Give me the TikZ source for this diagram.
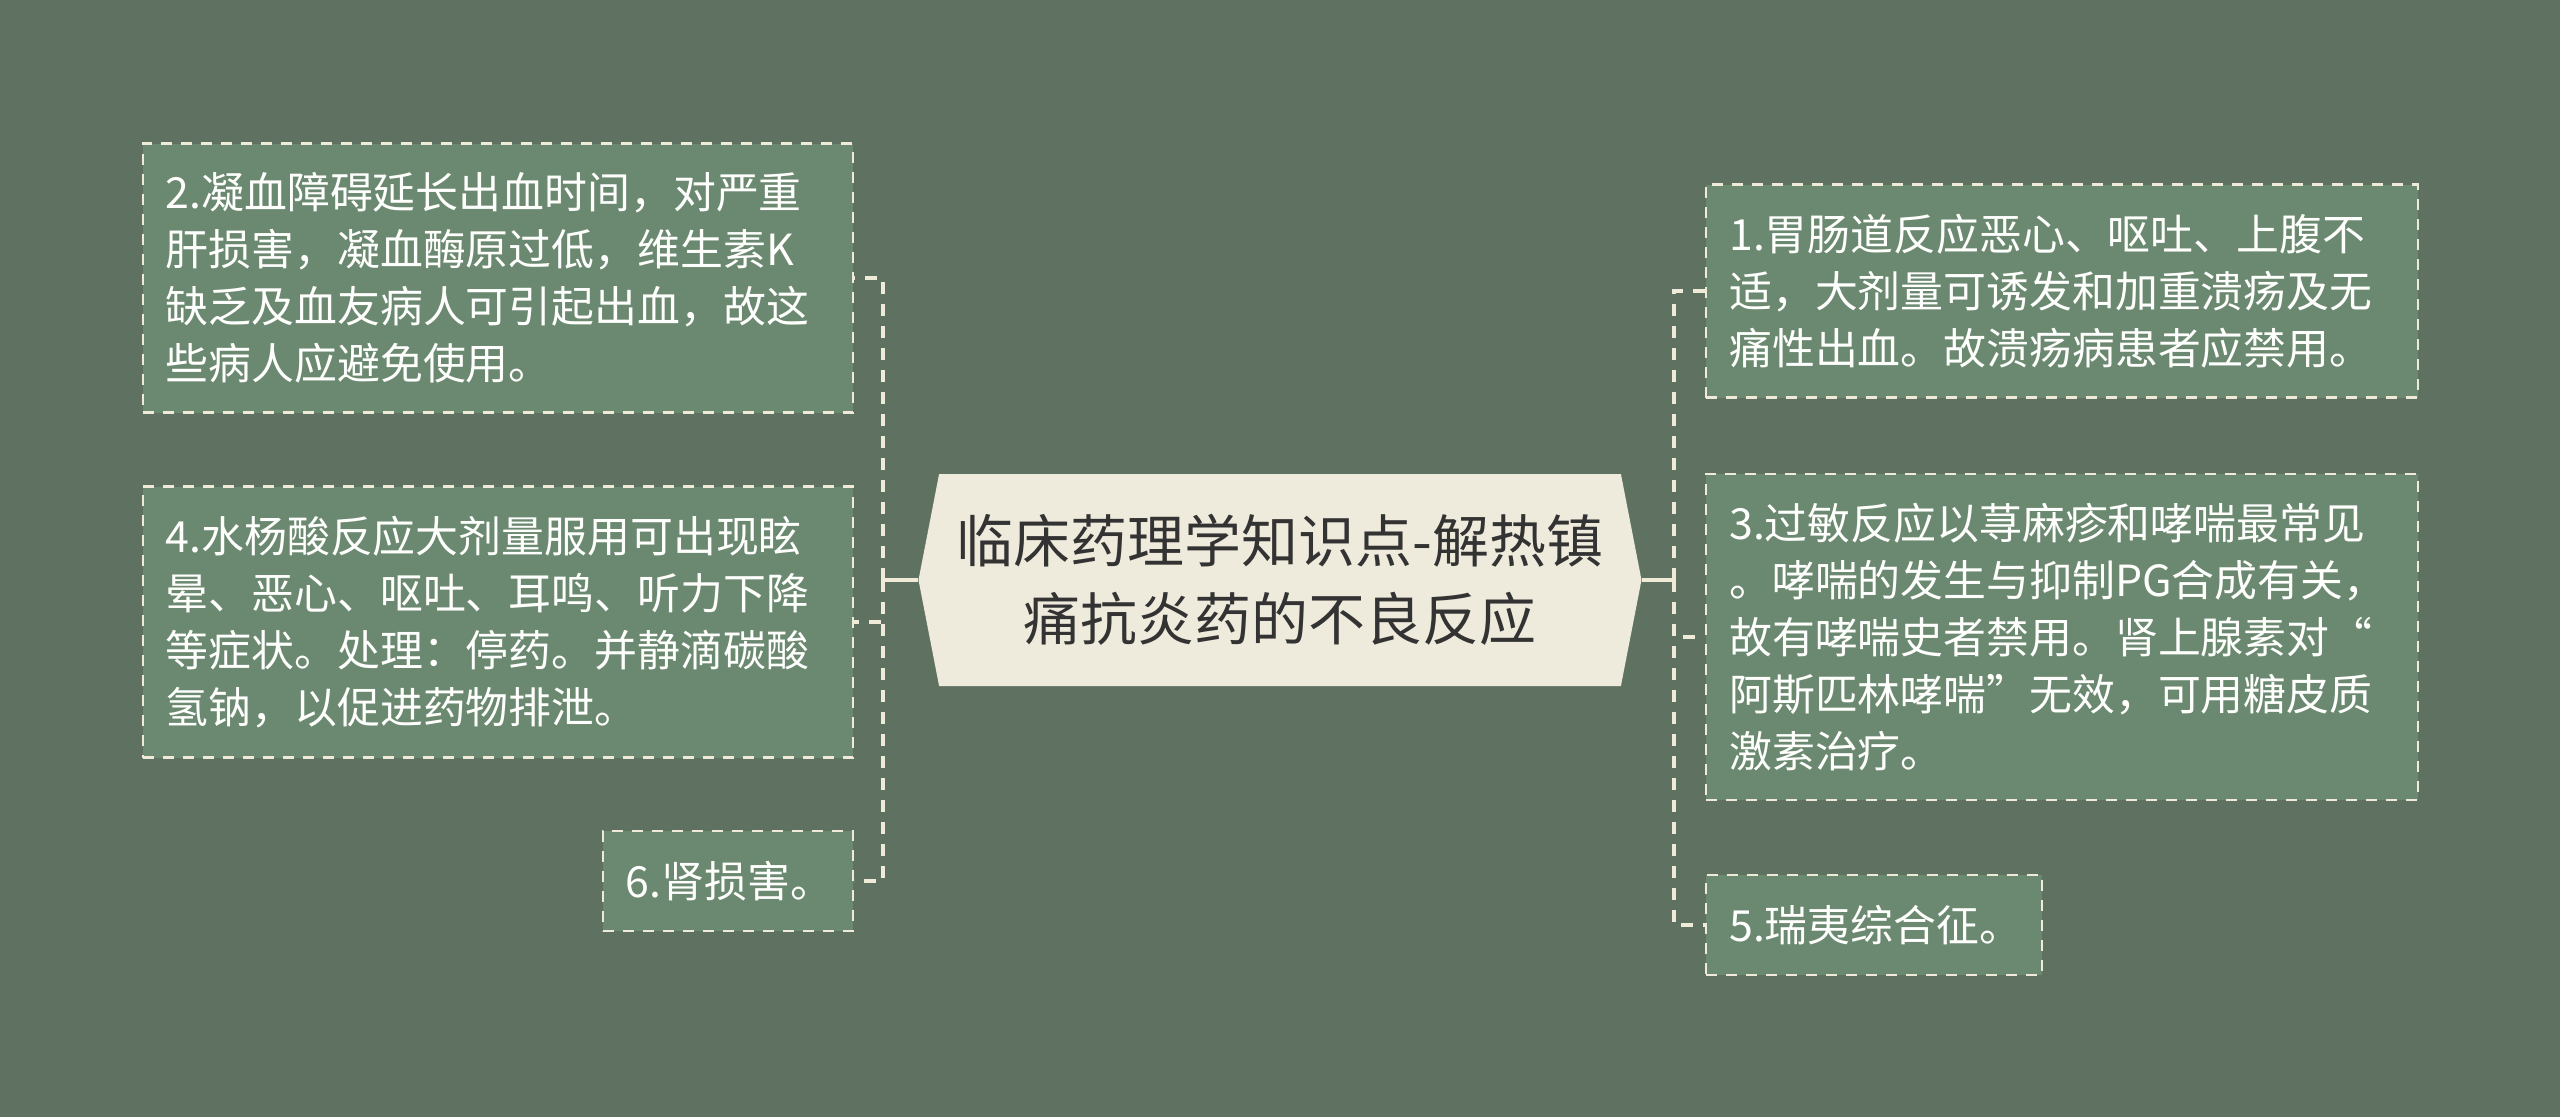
\documentclass[tikz,border=0pt]{standalone}
\usepackage{fontspec}
\newfontfamily\cjk{Noto Sans CJK SC}
\usetikzlibrary{shapes.symbols, positioning, calc}
\definecolor{mapbg}{RGB}{95,114,98}
\definecolor{leafgreen}{RGB}{107,137,112}
\definecolor{cream}{RGB}{240,235,216}
\definecolor{rootfill}{RGB}{239,235,220}
\definecolor{rootink}{RGB}{51,51,51}
\tikzset{
  leaf/.style={draw=cream, dash pattern=on 0.11cm off 0.09cm, line width=0.7pt,
    fill=leafgreen, text=white!94!cream, align=left, inner xsep=0.23cm, inner ysep=0pt,
    font=\cjk\fontsize{12.2}{16.2}\selectfont},
  root/.style={signal, signal to=west and east, signal pointer angle=158,
    fill=rootfill, text=rootink, align=center, inner sep=0pt,
    minimum width=7.23cm, minimum height=2.12cm,
    font=\cjk\fontsize{16.2}{22.2}\selectfont},
  stub/.style={draw=cream, line width=1pt},
  link/.style={stub, dash pattern=on 0.12cm off 0.10cm},
}

\begin{document}
\begin{tikzpicture}
  \path[use as bounding box, fill=mapbg] (0,0) rectangle (25.6,-11.17);

  \node[root] (root) at (12.80,-5.80) {临床药理学知识点-解热镇\\痛抗炎药的不良反应};

  % left side
  \node[leaf, anchor=east, text width=6.64cm, minimum height=2.69cm] (b2) at (8.54,-2.78)
    {2.凝血障碍延长出血时间，对严重\\肝损害，凝血酶原过低，维生素K\\缺乏及血友病人可引起出血，故这\\些病人应避免使用。};
  \node[leaf, anchor=east, text width=6.64cm, minimum height=2.71cm] (b4) at (8.54,-6.22)
    {4.水杨酸反应大剂量服用可出现眩\\晕、恶心、呕吐、耳鸣、听力下降\\等症状。处理：停药。并静滴碳酸\\氢钠，以促进药物排泄。};
  \node[leaf, anchor=east, text width=2.04cm, minimum height=1.00cm] (b6) at (8.54,-8.81)
    {6.肾损害。};

  % right side
  \node[leaf, anchor=west, text width=6.66cm, minimum height=2.13cm] (b1) at (17.05,-2.91)
    {1.胃肠道反应恶心、呕吐、上腹不\\适，大剂量可诱发和加重溃疡及无\\痛性出血。故溃疡病患者应禁用。};
  \node[leaf, anchor=west, text width=6.66cm, minimum height=3.26cm] (b3) at (17.05,-6.37)
    {3.过敏反应以荨麻疹和哮喘最常见\\。哮喘的发生与抑制PG合成有关，\\故有哮喘史者禁用。肾上腺素对“\\阿斯匹林哮喘”无效，可用糖皮质\\激素治疗。};
  \node[leaf, anchor=west, text width=2.90cm, minimum height=1.00cm] (b5) at (17.05,-9.25)
    {5.瑞夷综合征。};

  \coordinate (lspine) at (8.83,-5.80);
  \coordinate (rspine) at (16.74,-5.80);
  \draw[stub] (root.west) -- (lspine);
  \draw[stub] (root.east) -- (rspine);
  \foreach \b in {b2,b4,b6}
    \draw[link] (lspine) |- (\b.east);
  \foreach \b in {b1,b3,b5}
    \draw[link] (rspine) |- (\b.west);
\end{tikzpicture}
\end{document}
